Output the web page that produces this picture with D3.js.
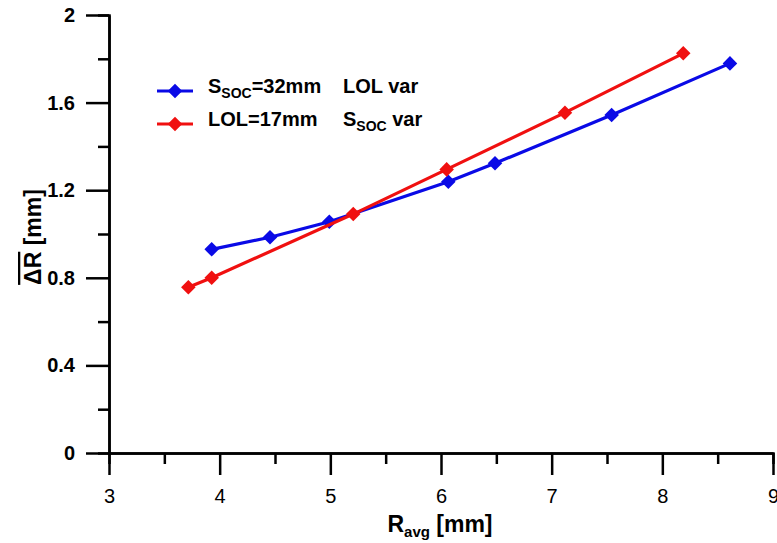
<!DOCTYPE html>
<html>
<head>
<meta charset="utf-8">
<script src="https://cdn.jsdelivr.net/npm/d3@7"></script>
<style>
  body { margin: 0; background: #fff; }
  svg { display: block; }
</style>
</head>
<body>
<div id="chart"></div>
<script>
// Data
const blueX = [3.928, 4.455, 4.991, 6.066, 6.488, 7.542, 8.611];
const blueY = [0.930, 0.985, 1.056, 1.239, 1.323, 1.543, 1.779];
const redX = [3.717, 3.928, 5.207, 6.051, 7.120, 8.189];
const redY = [0.757, 0.800, 1.091, 1.295, 1.554, 1.825];
const xTicks = [3, 4, 5, 6, 7, 8, 9];
const yTicks = [0, 0.4, 0.8, 1.2, 1.6, 2];

const width = 777;
const height = 543;
const margin = { top: 15, right: 4, bottom: 90, left: 109 };
const font = "'Liberation Sans', Arial, sans-serif";

const svg = d3.select("#chart")
    .append("svg")
    .attr("width", width)
    .attr("height", height);

const x = d3.scaleLinear().domain([3, 9]).range([margin.left, width - margin.right]);
const y = d3.scaleLinear().domain([0, 2]).range([height - margin.bottom, margin.top]);

// Axes: minor ticks first, then major
const xMinor = d3.axisBottom(x).tickValues(d3.range(3.5, 9, 1)).tickSize(11).tickFormat("");
const xMajor = d3.axisBottom(x).tickValues(xTicks).tickSize(22).tickSizeOuter(0).tickPadding(14)
    .tickFormat(d3.format("d"));
const yMinor = d3.axisLeft(y).tickValues([0.2, 0.6, 1.0, 1.4, 1.8]).tickSize(11).tickFormat("");
const yMajor = d3.axisLeft(y).tickValues(yTicks).tickSize(23).tickSizeOuter(0).tickPadding(11)
    .tickFormat(d => d === 0 || d === 2 ? d3.format("d")(d) : d3.format(".1f")(d));

function styleAxis(g, bold) {
    g.selectAll("path, line").attr("stroke", "#000").attr("stroke-width", 2.5);
    g.selectAll("text")
        .attr("fill", "#000")
        .style("font-family", font)
        .style("font-size", "20px")
        .style("font-weight", bold ? "bold" : "normal");
}

svg.append("g").attr("transform", `translate(0,${y(0)})`).call(xMinor).call(g => styleAxis(g, false));
svg.append("g").attr("transform", `translate(0,${y(0)})`).call(xMajor).call(g => styleAxis(g, false));
svg.append("g").attr("transform", `translate(${x(3)},0)`).call(yMinor).call(g => styleAxis(g, true));
svg.append("g").attr("transform", `translate(${x(3)},0)`).call(yMajor).call(g => styleAxis(g, true));

// Series
const series = [
    { name: "blue", color: "#0a0ae6", xs: blueX, ys: blueY },
    { name: "red", color: "#f01010", xs: redX, ys: redY },
];

const line = d3.line().x(d => x(d[0])).y(d => y(d[1]));
const diamond = d3.symbol().type(d3.symbolDiamond2).size(135);

series.forEach(s => {
    const pts = s.xs.map((v, i) => [v, s.ys[i]]);
    svg.append("path")
        .datum(pts)
        .attr("d", line)
        .attr("fill", "none")
        .attr("stroke", s.color)
        .attr("stroke-width", 3.2);
    svg.append("g")
        .selectAll("path")
        .data(pts)
        .enter()
        .append("path")
        .attr("transform", d => `translate(${x(d[0])},${y(d[1])})`)
        .attr("d", diamond)
        .attr("fill", s.color);
});

// Legend
const legend = svg.append("g").attr("transform", "translate(157,91)");
const legendRows = [
    { color: series[0].color, parts: [["S", 0], ["SOC", 1], ["=32mm", 0]], second: [["LOL var", 0]] },
    { color: series[1].color, parts: [["LOL=17mm", 0]], second: [["S", 0], ["SOC", 1], [" var", 0]] },
];

legendRows.forEach((row, i) => {
    const g = legend.append("g").attr("transform", `translate(0,${i * 33})`);
    g.append("line")
        .attr("x1", 0).attr("x2", 36)
        .attr("y1", 0).attr("y2", 0)
        .attr("stroke", row.color)
        .attr("stroke-width", 3.2);
    g.append("path")
        .attr("transform", "translate(18,0)")
        .attr("d", diamond)
        .attr("fill", row.color);
    [[row.parts, 51], [row.second, 186]].forEach(([parts, tx]) => {
        const t = g.append("text")
            .attr("x", tx)
            .attr("y", 7)
            .style("font-family", font)
            .style("font-size", "20px")
            .style("font-weight", "bold");
        parts.forEach(([str, sub]) => {
            t.append("tspan")
                .attr("dy", sub ? 5 : (t.selectAll("tspan").size() > 0 ? -5 : 0))
                .style("font-size", sub ? "14px" : "20px")
                .text(str);
        });
    });
});

// Axis titles
const xTitle = svg.append("text")
    .attr("x", 440)
    .attr("y", 532)
    .attr("text-anchor", "middle")
    .style("font-family", font)
    .style("font-size", "23px")
    .style("font-weight", "bold");
xTitle.append("tspan").text("R");
xTitle.append("tspan").attr("dy", 5).style("font-size", "15px").text("avg");
xTitle.append("tspan").attr("dy", -5).text(" [mm]");

const yTitle = svg.append("text")
    .attr("transform", "translate(41,237) rotate(-90)")
    .attr("text-anchor", "middle")
    .style("font-family", font)
    .style("font-size", "23px")
    .style("font-weight", "bold");
yTitle.append("tspan").style("text-decoration", "overline").text("ΔR");
yTitle.append("tspan").text(" [mm]");
</script>
</body>
</html>
